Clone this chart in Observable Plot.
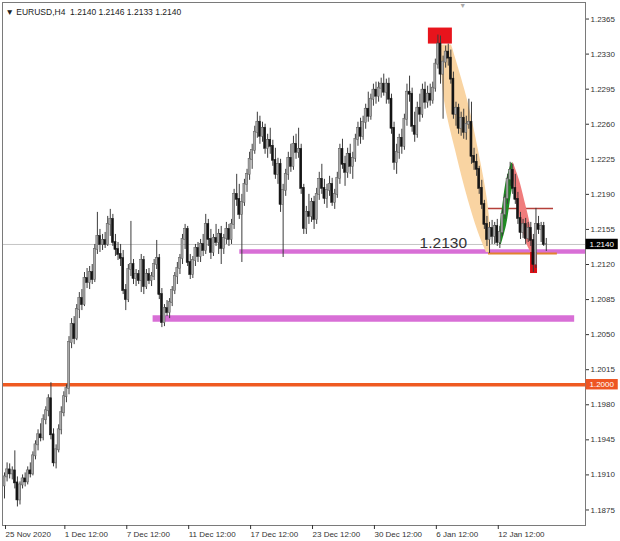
<!DOCTYPE html>
<html><head><meta charset="utf-8">
<script src="https://cdn.jsdelivr.net/npm/d3@7"></script>
<script src="https://cdn.jsdelivr.net/npm/@observablehq/plot@0.6"></script>
<style>html,body{margin:0;padding:0;background:#fff;overflow:hidden}</style>
</head><body><div id="chart"></div>
<script>
// ---- candle data (EURUSD H4), one entry per bar ----
const opens = [1.1899,1.1908,1.1915,1.1911,1.1914,1.1902,1.1885,1.1900,1.1906,1.1903,
1.1914,1.1911,1.1929,1.1940,1.1950,1.1947,1.1965,1.1974,1.1986,1.1950,
1.1922,1.1935,1.1955,1.1972,1.1988,1.1996,1.2042,1.2060,1.2046,1.2075,
1.2086,1.2080,1.2106,1.2102,1.2112,1.2105,1.2135,1.2148,1.2140,1.2144,
1.2140,1.2160,1.2165,1.2142,1.2135,1.2130,1.2126,1.2094,1.2085,1.2115,
1.2120,1.2106,1.2110,1.2104,1.2124,1.2098,1.2110,1.2104,1.2108,1.2120,
1.2126,1.2090,1.2062,1.2076,1.2072,1.2082,1.2094,1.2108,1.2116,1.2126,
1.2145,1.2155,1.2122,1.2110,1.2124,1.2136,1.2128,1.2140,1.2134,1.2160,
1.2145,1.2132,1.2146,1.2142,1.2150,1.2136,1.2146,1.2155,1.2145,1.2160,
1.2190,1.2185,1.2170,1.2182,1.2200,1.2210,1.2225,1.2234,1.2252,1.2262,
1.2248,1.2256,1.2236,1.2244,1.2238,1.2224,1.2210,1.2220,1.2180,1.2194,
1.2210,1.2226,1.2218,1.2240,1.2232,1.2235,1.2196,1.2156,1.2172,1.2168,
1.2182,1.2165,1.2190,1.2205,1.2196,1.2186,1.2194,1.2200,1.2182,1.2190,
1.2206,1.2235,1.2220,1.2212,1.2230,1.2218,1.2226,1.2245,1.2256,1.2248,
1.2262,1.2275,1.2268,1.2285,1.2294,1.2288,1.2296,1.2300,1.2292,1.2300,
1.2285,1.2256,1.2222,1.2232,1.2246,1.2238,1.2265,1.2292,1.2290,1.2258,
1.2250,1.2276,1.2270,1.2294,1.2282,1.2290,1.2284,1.2296,1.2320,1.2340,
1.2310,1.2322,1.2332,1.2326,1.2305,1.2270,1.2276,1.2256,1.2266,1.2252,
1.2260,1.2262,1.2228,1.2222,1.2215,1.2196,1.2180,1.2160,1.2145,1.2156,
1.2148,1.2158,1.2142,1.2152,1.2170,1.2186,1.2205,1.2214,1.2196,1.2185,
1.2166,1.2152,1.2160,1.2146,1.2156,1.2144,1.2120,1.2160,1.2155,1.2158,
1.2140];
const highs = [1.1912,1.1922,1.1921,1.1918,1.1934,1.1908,1.1903,1.1910,1.1912,1.1918,
1.1922,1.1933,1.1944,1.1955,1.1961,1.1970,1.1978,1.1990,1.2002,1.1956,
1.1940,1.1960,1.1978,1.1993,1.2000,1.2048,1.2066,1.2068,1.2080,1.2092,
1.2095,1.2112,1.2116,1.2118,1.2120,1.2140,1.2172,1.2155,1.2150,1.2152,
1.2168,1.2175,1.2170,1.2150,1.2142,1.2140,1.2134,1.2100,1.2120,1.2163,
1.2125,1.2115,1.2114,1.2130,1.2128,1.2115,1.2116,1.2112,1.2125,1.2144,
1.2130,1.2096,1.2080,1.2084,1.2086,1.2098,1.2112,1.2122,1.2130,1.2150,
1.2160,1.2158,1.2130,1.2128,1.2140,1.2142,1.2145,1.2150,1.2170,1.2165,
1.2155,1.2150,1.2160,1.2155,1.2158,1.2150,1.2162,1.2160,1.2165,1.2195,
1.2210,1.2200,1.2190,1.2205,1.2215,1.2232,1.2240,1.2258,1.2272,1.2268,
1.2262,1.2260,1.2250,1.2256,1.2244,1.2236,1.2226,1.2225,1.2200,1.2215,
1.2232,1.2240,1.2248,1.2250,1.2256,1.2240,1.2200,1.2178,1.2190,1.2186,
1.2188,1.2196,1.2212,1.2220,1.2205,1.2200,1.2208,1.2206,1.2195,1.2212,
1.2240,1.2245,1.2228,1.2236,1.2240,1.2232,1.2250,1.2262,1.2266,1.2268,
1.2280,1.2292,1.2290,1.2300,1.2302,1.2302,1.2306,1.2310,1.2305,1.2306,
1.2290,1.2262,1.2240,1.2250,1.2255,1.2270,1.2300,1.2308,1.2296,1.2272,
1.2282,1.2290,1.2300,1.2302,1.2298,1.2300,1.2302,1.2325,1.2349,1.2348,
1.2328,1.2338,1.2340,1.2334,1.2312,1.2282,1.2280,1.2272,1.2275,1.2268,
1.2285,1.2282,1.2236,1.2230,1.2218,1.2204,1.2184,1.2168,1.2162,1.2164,
1.2162,1.2165,1.2158,1.2175,1.2190,1.2210,1.2222,1.2220,1.2210,1.2192,
1.2172,1.2165,1.2166,1.2162,1.2162,1.2150,1.2176,1.2168,1.2162,1.2162,
1.2146];
const lows = [1.1886,1.1903,1.1906,1.1905,1.1896,1.1878,1.1880,1.1896,1.1898,1.1900,
1.1907,1.1909,1.1925,1.1934,1.1943,1.1944,1.1960,1.1968,1.1945,1.1918,
1.1916,1.1932,1.1950,1.1968,1.1982,1.1990,1.2036,1.2040,1.2044,1.2066,
1.2074,1.2078,1.2096,1.2095,1.2100,1.2102,1.2130,1.2132,1.2134,1.2136,
1.2138,1.2148,1.2138,1.2128,1.2124,1.2118,1.2090,1.2074,1.2082,1.2108,
1.2100,1.2098,1.2100,1.2092,1.2090,1.2095,1.2100,1.2098,1.2104,1.2115,
1.2085,1.2057,1.2058,1.2068,1.2066,1.2078,1.2090,1.2100,1.2110,1.2120,
1.2135,1.2118,1.2105,1.2106,1.2118,1.2122,1.2122,1.2128,1.2130,1.2138,
1.2125,1.2128,1.2138,1.2130,1.2120,1.2130,1.2140,1.2138,1.2140,1.2155,
1.2178,1.2165,1.2122,1.2178,1.2192,1.2204,1.2215,1.2230,1.2246,1.2240,
1.2242,1.2230,1.2226,1.2230,1.2218,1.2205,1.2200,1.2172,1.2127,1.2188,
1.2204,1.2212,1.2214,1.2225,1.2226,1.2190,1.2150,1.2150,1.2160,1.2162,
1.2155,1.2160,1.2184,1.2190,1.2180,1.2176,1.2188,1.2178,1.2175,1.2186,
1.2200,1.2215,1.2198,1.2206,1.2210,1.2205,1.2222,1.2238,1.2240,1.2244,
1.2255,1.2262,1.2264,1.2278,1.2280,1.2282,1.2286,1.2288,1.2280,1.2280,
1.2250,1.2214,1.2210,1.2225,1.2230,1.2234,1.2258,1.2282,1.2252,1.2242,
1.2246,1.2262,1.2266,1.2275,1.2276,1.2278,1.2280,1.2292,1.2315,1.2300,
1.2265,1.2316,1.2318,1.2300,1.2265,1.2258,1.2250,1.2248,1.2245,1.2244,
1.2255,1.2220,1.2214,1.2208,1.2190,1.2175,1.2155,1.2138,1.2131,1.2140,
1.2140,1.2138,1.2136,1.2148,1.2165,1.2180,1.2198,1.2190,1.2180,1.2160,
1.2145,1.2146,1.2140,1.2142,1.2138,1.2112,1.2116,1.2150,1.2142,1.2138,
1.2133];
const closes = [1.1908,1.1915,1.1911,1.1914,1.1902,1.1885,1.1900,1.1906,1.1903,1.1914,
1.1911,1.1929,1.1940,1.1950,1.1947,1.1965,1.1974,1.1986,1.1950,1.1922,
1.1935,1.1955,1.1972,1.1988,1.1996,1.2042,1.2060,1.2046,1.2075,1.2086,
1.2080,1.2106,1.2102,1.2112,1.2105,1.2135,1.2148,1.2140,1.2144,1.2140,
1.2160,1.2165,1.2142,1.2135,1.2130,1.2126,1.2094,1.2085,1.2115,1.2120,
1.2106,1.2110,1.2104,1.2124,1.2098,1.2110,1.2104,1.2108,1.2120,1.2126,
1.2090,1.2062,1.2076,1.2072,1.2082,1.2094,1.2108,1.2116,1.2126,1.2145,
1.2155,1.2122,1.2110,1.2124,1.2136,1.2128,1.2140,1.2134,1.2160,1.2145,
1.2132,1.2146,1.2142,1.2150,1.2136,1.2146,1.2155,1.2145,1.2160,1.2190,
1.2185,1.2170,1.2182,1.2200,1.2210,1.2225,1.2234,1.2252,1.2262,1.2248,
1.2256,1.2236,1.2244,1.2238,1.2224,1.2210,1.2220,1.2180,1.2194,1.2210,
1.2226,1.2218,1.2240,1.2232,1.2235,1.2196,1.2156,1.2172,1.2168,1.2182,
1.2165,1.2190,1.2205,1.2196,1.2186,1.2194,1.2200,1.2182,1.2190,1.2206,
1.2235,1.2220,1.2212,1.2230,1.2218,1.2226,1.2245,1.2256,1.2248,1.2262,
1.2275,1.2268,1.2285,1.2294,1.2288,1.2296,1.2300,1.2292,1.2300,1.2285,
1.2256,1.2222,1.2232,1.2246,1.2238,1.2265,1.2292,1.2290,1.2258,1.2250,
1.2276,1.2270,1.2294,1.2282,1.2290,1.2284,1.2296,1.2320,1.2340,1.2310,
1.2322,1.2332,1.2326,1.2305,1.2270,1.2276,1.2256,1.2266,1.2252,1.2260,
1.2262,1.2228,1.2222,1.2215,1.2196,1.2180,1.2160,1.2145,1.2156,1.2148,
1.2158,1.2142,1.2152,1.2170,1.2186,1.2205,1.2214,1.2196,1.2185,1.2166,
1.2152,1.2160,1.2146,1.2156,1.2144,1.2120,1.2160,1.2155,1.2158,1.2140,
1.2140];

// ---- axis ticks ----
const yTicks = [1.1875,1.1910,1.1945,1.1980,1.2015,1.2050,1.2085,1.2120,1.2155,1.2190,1.2225,1.2260,1.2295,1.2330,1.2365];
const xTickIdx = [0,23,47,71,95,119,143,167,191];
const xLabels = ["25 Nov 2020","1 Dec 12:00","7 Dec 12:00","11 Dec 12:00","17 Dec 12:00","23 Dec 12:00","30 Dec 12:00","6 Jan 12:00","12 Jan 12:00"];
const symbol = "EURUSD,H4";

// ---- drawn objects (bar index / price) ----
const bidPrice = 1.2140;
const roundLevel = 1.2000;
const levelY  = [1.2133, 1.2066, 1.2176, 1.2131];
const levelX1 = [91.2, 57.6, 186.8, 187.6];
const levelX2 = [225.2, 221.0, 212.8, 214.3];
const levelColor = ["#d86fd6", "#d86fd6", "#b5403a", "#e2822e"];
const levelWidth = [4.5, 6.5, 1.5, 2];

const boxX1 = [164.3, 203.9];
const boxX2 = [173.6, 206.6];
const boxY1 = [1.2340, 1.2111];
const boxY2 = [1.2356, 1.2132];
const boxColor = ["#e8141c", "#d90f16"];

const tanP = [1.2339, 1.2284, 1.2234, 1.2184, 1.2149, 1.2132];
const tanL = [169.0, 170.5, 174.8, 179.8, 184.1, 186.8];
const tanR = [173.3, 179.5, 183.7, 187.2, 188.4, 188.0];
const greenP = [1.2221, 1.2204, 1.2184, 1.2159, 1.2140];
const greenL = [196.5, 194.6, 193.4, 192.2, 191.9];
const greenR = [197.3, 197.3, 196.1, 194.6, 192.6];
const redP = [1.2221, 1.2204, 1.2184, 1.2159, 1.2139, 1.2130];
const redL = [196.9, 197.3, 198.4, 200.4, 202.7, 204.6];
const redR = [197.3, 199.6, 201.6, 203.9, 205.0, 205.4];

const noteText = ["1.2130"];
const noteI = [160.9];
const noteP = [1.2141];

const shiftI = [177.6];

const tagValues = [bidPrice, roundLevel];
const tagColors = ["#000000", "#ee5522"];

// ---- build tables ----
const bars = opens.map((o, i) => ({i, open: o, high: highs[i], low: lows[i], close: closes[i]}));
const levels = levelY.map((y, k) => ({y, x1: levelX1[k], x2: levelX2[k], c: levelColor[k], w: levelWidth[k]}));
const boxes = boxX1.map((x1, k) => ({x1, x2: boxX2[k], y1: boxY1[k], y2: boxY2[k], c: boxColor[k]}));
const lens = (P, L, R) => P.map((p, k) => ({p, l: L[k], r: R[k]}));
const last = bars[bars.length - 1];
const header = `▼ ${symbol}  ${[last.open, last.high, last.low, last.close].map(v => v.toFixed(4)).join(" ")}`;

const xDomain = [-0.78, 225.2];
const yDomain = [1.18595, 1.23815];
const tagW = 12.5, tagH = 0.00052;

const chart = Plot.plot({
  width: 620, height: 541,
  marginLeft: 2, marginRight: 35, marginTop: 2, marginBottom: 16,
  x: {domain: xDomain, axis: null},
  y: {domain: yDomain, axis: null},
  style: {fontFamily: "'Liberation Sans', Arial, sans-serif", background: "#fff", overflow: "visible"},
  marks: [
    Plot.ruleY([bidPrice], {stroke: "#c4c4c4", strokeWidth: 1}),
    Plot.ruleY([roundLevel], {stroke: "#ef5a22", strokeWidth: 3.5}),
    Plot.ruleY(levels, {y: "y", x1: "x1", x2: "x2", stroke: d => d.c, strokeWidth: d => d.w}),
    Plot.areaX(lens(tanP, tanL, tanR), {y: "p", x1: "l", x2: "r", fill: "#f9d4a2", curve: "catmull-rom"}),
    Plot.areaX(lens(greenP, greenL, greenR), {y: "p", x1: "l", x2: "r", fill: "#1f8c22", curve: "catmull-rom"}),
    Plot.areaX(lens(redP, redL, redR), {y: "p", x1: "l", x2: "r", fill: "#f07c7c", curve: "catmull-rom"}),
    Plot.rect(boxes, {x1: "x1", x2: "x2", y1: "y1", y2: "y2", fill: d => d.c}),
    // candles
    Plot.ruleX(bars, {x: "i", y1: "low", y2: "high", stroke: "#3c3c3c", strokeWidth: 1}),
    Plot.rect(bars, {x1: d => d.i - 0.4, x2: d => d.i + 0.4, y1: "open", y2: "close",
      fill: d => d.close >= d.open ? "#a8a8a8" : "#151515",
      stroke: d => d.close >= d.open ? "#555" : "#151515", strokeWidth: 0.5,
      insetTop: -0.5, insetBottom: -0.5}),
    Plot.text(noteText, {x: noteI, y: noteP, text: d => d, textAnchor: "start", fontSize: 15.5, fill: "#333"}),
    Plot.frame({stroke: "#7a7a7a"}),
    Plot.text(["▼"], {x: shiftI, frameAnchor: "top", dy: 1, text: d => d, fontSize: 7, fill: "#aaa"}),
    Plot.axisY(yTicks, {anchor: "right", tickSize: 3, tickPadding: 2, fontSize: 8, color: "#333", tickFormat: d => d.toFixed(4)}),
    Plot.axisX(xTickIdx, {anchor: "bottom", tickSize: 4, tickPadding: 2, fontSize: 8, color: "#333",
      tickFormat: d => xLabels[xTickIdx.indexOf(d)], textAnchor: "start", dx: 1}),
    Plot.rect(tagValues, {x1: xDomain[1] + 0.2, x2: xDomain[1] + 0.2 + tagW, y1: d => d - tagH, y2: d => d + tagH, fill: (d, k) => tagColors[k]}),
    Plot.text(tagValues, {x: xDomain[1], y: d => d, dx: 4, text: d => d.toFixed(4), textAnchor: "start", fontSize: 8, fill: "#fff"}),
    Plot.text([header], {frameAnchor: "top-left", dx: 3, dy: 6, text: d => d, fontSize: 8.5, fill: "#222", textAnchor: "start"})
  ]
});
document.getElementById("chart").appendChild(chart);
</script>
</body></html>
